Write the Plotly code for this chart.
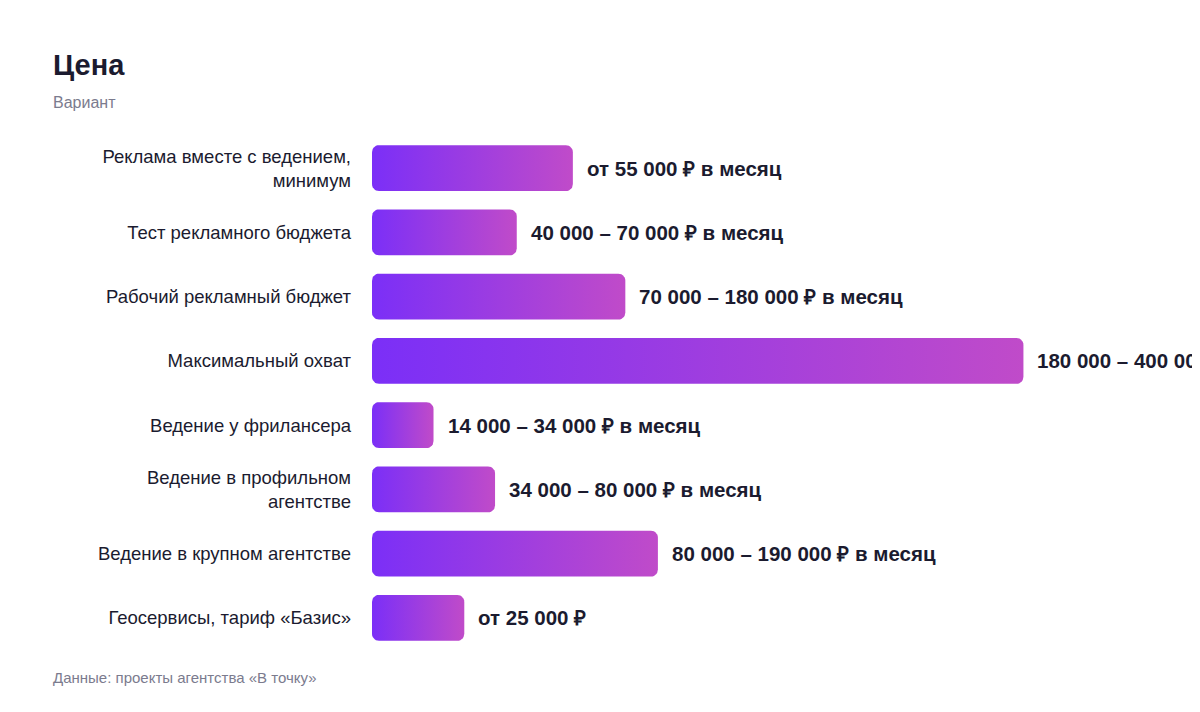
import numpy as np
import plotly.graph_objects as go

# Data #
categories = [
    "Реклама вместе с ведением,<br>минимум",
    "Тест рекламного бюджета",
    "Рабочий рекламный бюджет",
    "Максимальный охват",
    "Ведение у фрилансера",
    "Ведение в профильном<br>агентстве",
    "Ведение в крупном агентстве",
    "Геосервисы, тариф «Базис»",
]
# bar lengths as drawn (roughly the lower bound of each price range)
bar_values = [55500, 40000, 70000, 180000, 17000, 34000, 79000, 25500]
value_labels = [
    "от 55 000 ₽ в месяц",
    "40 000 – 70 000 ₽ в месяц",
    "70 000 – 180 000 ₽ в месяц",
    "180 000 – 400 000 ₽ в месяц",
    "14 000 – 34 000 ₽ в месяц",
    "34 000 – 80 000 ₽ в месяц",
    "80 000 – 190 000 ₽ в месяц",
    "от 25 000 ₽",
]

# Layout constants (page adds an 8px body margin) #
W, H = 1200, 712
M_L, M_R, M_T, M_B = 364, 0, 128, 70
X_MAX = 231000
BAR_H = 0.715  # in category units
RADIUS_PX = 7

FONT = "Liberation Sans, Arial, Helvetica, sans-serif"
DARK = "#1b1b2f"
GREY = "#7b7b8e"
GRAD = [[0, "#7b2ff7"], [1, "#c04bc9"]]

plot_w = W - M_L - M_R
plot_h = H - M_T - M_B
n = len(categories)
rx = RADIUS_PX * X_MAX / plot_w
ry = RADIUS_PX * n / plot_h


def rounded_bar(length, yc):
    # outline of a rounded rectangle from 0 to length, centred on yc
    y0, y1 = yc - BAR_H / 2, yc + BAR_H / 2
    t = np.linspace(0, np.pi / 2, 8)
    xs, ys = [], []
    corners = [
        (length - rx, y0 + ry, -np.pi / 2),
        (length - rx, y1 - ry, 0),
        (rx, y1 - ry, np.pi / 2),
        (rx, y0 + ry, np.pi),
    ]
    for cx, cy, a0 in corners:
        xs += list(cx + rx * np.cos(a0 + t))
        ys += list(cy + ry * np.sin(a0 + t))
    xs.append(xs[0])
    ys.append(ys[0])
    return xs, ys


fig = go.Figure()

for i, v in enumerate(bar_values):
    xs, ys = rounded_bar(v, i)
    fig.add_trace(go.Scatter(
        x=xs, y=ys,
        mode="lines",
        fill="toself",
        line=dict(width=0, color="rgba(0,0,0,0)"),
        fillgradient=dict(type="horizontal", colorscale=GRAD),
        hoverinfo="skip",
        showlegend=False,
    ))

# value labels next to the bars
for i, (v, lab) in enumerate(zip(bar_values, value_labels)):
    fig.add_annotation(
        x=v, y=i, text=f"<b>{lab}</b>",
        xanchor="left", yanchor="middle", xshift=12,
        showarrow=False,
        font=dict(family=FONT, size=20.5, color=DARK),
    )

# title, subtitle, source (positions in page pixels)
px_to_x = lambda px: (px - M_L) / plot_w
px_to_y = lambda py: 1 - (py - M_T) / plot_h
fig.add_annotation(
    xref="paper", yref="paper", x=px_to_x(43), y=px_to_y(57),
    text="<b>Цена</b>", xanchor="left", yanchor="middle", showarrow=False,
    font=dict(family=FONT, size=29, color=DARK),
)
fig.add_annotation(
    xref="paper", yref="paper", x=px_to_x(43), y=px_to_y(94),
    text="Вариант", xanchor="left", yanchor="middle", showarrow=False,
    font=dict(family=FONT, size=16, color=GREY),
)
fig.add_annotation(
    xref="paper", yref="paper", x=px_to_x(43), y=px_to_y(669),
    text="Данные: проекты агентства «В точку»", xanchor="left", yanchor="middle",
    showarrow=False,
    font=dict(family=FONT, size=15, color=GREY),
)

fig.update_xaxes(
    range=[0, X_MAX],
    visible=False,
    fixedrange=True,
)
fig.update_yaxes(
    range=[n - 0.5, -0.5],
    tickmode="array",
    tickvals=list(range(n)),
    ticktext=categories,
    ticks="",
    showgrid=False,
    zeroline=False,
    showline=False,
    ticklabelstandoff=20,
    tickfont=dict(family=FONT, size=18.5, color=DARK),
    fixedrange=True,
)

fig.update_layout(
    width=W, height=H,
    margin=dict(l=M_L, r=M_R, t=M_T, b=M_B, autoexpand=False),
    paper_bgcolor="white",
    plot_bgcolor="white",
    showlegend=False,
)

fig.write_html("out.html")
